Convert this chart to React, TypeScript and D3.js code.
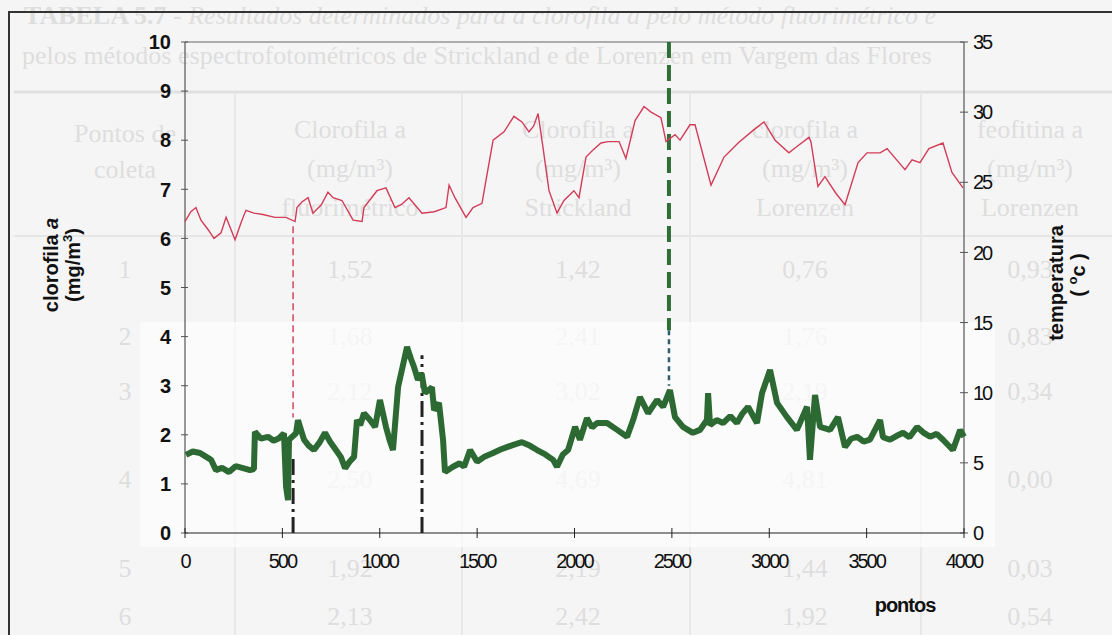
import React from 'react';
import * as d3 from 'd3';

const W = 1112;
const H = 635;

// temperatura (oC) - eixo direito
const tempPontos = [0, 30, 56, 82, 120, 149, 185, 211, 257, 290, 313, 354, 400, 462, 519, 565, 575, 600, 632, 657, 700, 734, 760, 806, 863, 909, 919, 986, 1032, 1078, 1110, 1150, 1217, 1280, 1340, 1356, 1386, 1443, 1479, 1525, 1550, 1582, 1638, 1689, 1730, 1766, 1790, 1813, 1838, 1869, 1890, 1910, 1946, 1997, 2023, 2059, 2095, 2136, 2172, 2229, 2264, 2311, 2357, 2393, 2444, 2470, 2516, 2542, 2593, 2619, 2701, 2768, 2840, 2917, 2973, 3030, 3101, 3137, 3204, 3214, 3250, 3286, 3343, 3389, 3456, 3502, 3569, 3605, 3697, 3733, 3774, 3820, 3892, 3938, 3995];
const tempValores = [22.2, 22.9, 23.2, 22.3, 21.6, 21.0, 21.4, 22.5, 20.9, 22.2, 23.0, 22.8, 22.7, 22.5, 22.5, 22.2, 23.2, 23.6, 23.9, 22.8, 23.4, 24.3, 23.9, 23.7, 22.3, 22.2, 23.2, 24.4, 24.6, 23.2, 23.4, 23.9, 22.8, 22.9, 23.2, 24.8, 23.9, 22.5, 23.2, 23.5, 25.5, 28.0, 28.6, 29.7, 29.3, 28.6, 29.0, 29.9, 27.5, 24.4, 23.6, 22.8, 23.7, 24.4, 23.9, 26.8, 27.3, 27.8, 27.9, 27.9, 26.7, 29.4, 30.4, 30.0, 29.6, 27.9, 28.4, 28.0, 29.1, 29.1, 24.8, 26.8, 27.8, 28.7, 29.3, 28.0, 27.1, 27.5, 28.2, 27.9, 24.7, 25.4, 24.2, 23.4, 26.4, 27.1, 27.1, 27.4, 25.9, 26.6, 26.4, 27.4, 27.8, 25.7, 24.6];

// clorofila a (mg/m3) - eixo esquerdo
const cloroPontos = [5, 40, 77, 105, 134, 159, 190, 226, 260, 298, 334, 354, 359, 390, 426, 455, 483, 508, 519, 529, 534, 570, 580, 611, 635, 662, 690, 719, 745, 775, 800, 822, 845, 868, 883, 900, 919, 950, 976, 1001, 1032, 1050, 1068, 1094, 1125, 1140, 1160, 1176, 1196, 1215, 1232, 1268, 1279, 1304, 1325, 1335, 1376, 1410, 1433, 1464, 1500, 1540, 1582, 1620, 1653, 1690, 1730, 1770, 1808, 1850, 1890, 1910, 1940, 1967, 2003, 2028, 2064, 2090, 2116, 2167, 2219, 2270, 2301, 2336, 2378, 2424, 2455, 2490, 2516, 2557, 2608, 2644, 2680, 2686, 2696, 2730, 2763, 2800, 2834, 2860, 2891, 2937, 2963, 3004, 3040, 3091, 3142, 3194, 3209, 3235, 3261, 3312, 3353, 3389, 3420, 3451, 3485, 3517, 3569, 3584, 3620, 3655, 3687, 3720, 3759, 3790, 3826, 3860, 3892, 3943, 3980, 4000];
const cloroValores = [1.59, 1.66, 1.63, 1.56, 1.49, 1.28, 1.33, 1.24, 1.36, 1.32, 1.28, 1.30, 2.06, 1.92, 1.96, 1.88, 1.93, 2.03, 0.94, 0.67, 1.9, 2.03, 2.3, 1.9, 1.78, 1.69, 1.84, 2.04, 1.86, 1.69, 1.55, 1.32, 1.45, 1.55, 2.3, 2.2, 2.44, 2.3, 2.16, 2.71, 2.16, 1.9, 1.69, 2.97, 3.52, 3.79, 3.55, 3.38, 3.12, 3.25, 2.85, 2.97, 2.5, 2.65, 1.9, 1.24, 1.35, 1.42, 1.35, 1.69, 1.45, 1.56, 1.63, 1.7, 1.75, 1.8, 1.85, 1.78, 1.69, 1.6, 1.49, 1.35, 1.6, 1.69, 2.16, 1.9, 2.34, 2.15, 2.24, 2.24, 2.1, 1.96, 2.3, 2.77, 2.44, 2.71, 2.57, 2.91, 2.36, 2.16, 2.04, 2.1, 2.3, 2.85, 2.2, 2.3, 2.24, 2.38, 2.24, 2.42, 2.57, 2.24, 2.85, 3.32, 2.65, 2.36, 2.1, 2.57, 1.49, 2.81, 2.16, 2.1, 2.36, 1.75, 1.92, 1.96, 1.86, 1.9, 2.3, 1.95, 1.9, 1.98, 2.04, 1.95, 2.16, 2.05, 1.96, 2.02, 1.9, 1.69, 2.1, 1.96];

// pontos de coleta marcados por linhas verticais (em mg/m3)
const marcaVermelha = { ponto: 555, de: 6.25, ate: 2.35 };
const marcasPretas = [
  { ponto: 555, de: 0, ate: 1.55 },
  { ponto: 1217, de: 0, ate: 3.62 },
];
const marcaVerde = { ponto: 2485, de: 4.13, ate: 10 };
const marcaAzul = { ponto: 2485, de: 3.0, ate: 4.13 };

const xTicks = [0, 500, 1000, 1500, 2000, 2500, 3000, 3500, 4000];
const cloroTicks = [0, 1, 2, 3, 4, 5, 6, 7, 8, 9, 10];
const tempTicks = [0, 5, 10, 15, 20, 25, 30, 35];

// tabela apagada ao fundo (digitalizada)
const tituloTabela = [
  'TABELA 5.7 - Resultados determinados para a clorofila a pelo método fluorimétrico e',
  'pelos métodos espectrofotométricos de Strickland e de Lorenzen em Vargem das Flores',
];
const cabecalhos = [
  ['Pontos de', 'coleta'],
  ['Clorofila a', '(mg/m³)', 'fluorimétrico'],
  ['Clorofila a', '(mg/m³)', 'Strickland'],
  ['clorofila a', '(mg/m³)', 'Lorenzen'],
  ['feofitina a', '(mg/m³)', 'Lorenzen'],
];
const linhasTabela = [
  ['1', '1,52', '1,42', '0,76', '0,93'],
  ['2', '1,68', '2,41', '1,76', '0,83'],
  ['3', '2,12', '3,02', '2,19', '0,34'],
  ['4', '2,50', '4,69', '4,81', '0,00'],
  ['5', '1,92', '2,19', '1,44', '0,03'],
  ['6', '2,13', '2,42', '1,92', '0,54'],
];
const linhasY = [278, 345, 400, 488, 577, 625];

export default function App() {
  const left = 185, right = 964, top = 42, bottom = 533;
  const x = d3.scaleLinear().domain([0, 4000]).range([left, right]);
  const yC = d3.scaleLinear().domain([0, 10]).range([bottom, top]);
  const yT = d3.scaleLinear().domain([0, 35]).range([bottom, top]);

  const linhaTemp = d3.line<number>()
    .x((d, i) => x(tempPontos[i]))
    .y(d => yT(d));
  const linhaCloro = d3.line<number>()
    .x((d, i) => x(cloroPontos[i]))
    .y(d => yC(d));

  const colX = [125, 350, 578, 805, 1030];
  const colLines = [235, 462, 690, 921];
  const ghost = '#dedede';
  const sans = 'Liberation Sans, Arial, sans-serif';

  return (
    <svg width={W} height={H} style={{ position: 'absolute', left: 0, top: 0 }}>
      <rect width={W} height={H} fill="#f5f5f5" />

      {/* tabela ao fundo */}
      <g fill={ghost} fontFamily="Liberation Serif, serif" fontSize={26}>
        <text x={24} y={24} fontWeight="bold">TABELA 5.7 - <tspan fontStyle="italic" fontWeight="normal">{tituloTabela[0].slice(13)}</tspan></text>
        <text x={22} y={64}>{tituloTabela[1]}</text>
        <line x1={14} x2={W} y1={92} y2={92} stroke="#e0e0e0" strokeWidth={3} />
        <line x1={14} x2={W} y1={236} y2={236} stroke="#e6e6e6" strokeWidth={2} />
        {colLines.map(c => (
          <line key={c} x1={c} x2={c} y1={94} y2={H} stroke="#e8e8e8" strokeWidth={2} />
        ))}
        {cabecalhos.map((col, ci) =>
          col.map((t, li) => (
            <text key={ci + '-' + li} x={colX[ci]} y={(ci === 0 ? 142 : 138) + li * (ci === 0 ? 36 : 39)} textAnchor="middle">{t}</text>
          ))
        )}
        {linhasTabela.map((row, ri) =>
          row.map((t, ci) => (
            <text key={ri + '-' + ci} x={colX[ci]} y={linhasY[ri]} textAnchor="middle">{t}</text>
          ))
        )}
      </g>

      {/* parte inferior colada, mais clara */}
      <rect x={140} y={322} width={855} height={225} fill="#fcfcfc" opacity={0.75} />

      {/* moldura externa */}
      <path d={`M9,${H} V12 H${W}`} fill="none" stroke="#333" strokeWidth={2} />

      {/* area do grafico */}
      <line x1={left} x2={right} y1={top} y2={top} stroke="#666" strokeWidth={1.2} />
      <line x1={left} x2={left} y1={top} y2={bottom} stroke="#555" strokeWidth={1.2} />
      <line x1={right} x2={right} y1={top} y2={bottom} stroke="#555" strokeWidth={1.2} />
      <line x1={left} x2={right} y1={bottom} y2={bottom} stroke="#222" strokeWidth={1.2} />

      {/* linhas verticais dos pontos de coleta */}
      <line x1={x(marcaVermelha.ponto)} x2={x(marcaVermelha.ponto)} y1={yC(marcaVermelha.de)} y2={yC(marcaVermelha.ate)}
        stroke="#d2465e" strokeWidth={1.5} strokeDasharray="7,4" />
      {marcasPretas.map(m => (
        <line key={m.ponto} x1={x(m.ponto)} x2={x(m.ponto)} y1={yC(m.de)} y2={yC(m.ate)}
          stroke="#222" strokeWidth={3} strokeDasharray="16,5,3,5" />
      ))}
      <line x1={x(marcaVerde.ponto)} x2={x(marcaVerde.ponto)} y1={yC(marcaVerde.ate)} y2={yC(marcaVerde.de)}
        stroke="#2f6e36" strokeWidth={4} strokeDasharray="16,7" />
      <line x1={x(marcaAzul.ponto)} x2={x(marcaAzul.ponto)} y1={yC(marcaAzul.ate)} y2={yC(marcaAzul.de)}
        stroke="#2f5f6e" strokeWidth={2.5} strokeDasharray="5,4" />

      {/* series */}
      <path d={linhaCloro(cloroValores) || ''} fill="none" stroke="#2d6a33" strokeWidth={6} strokeLinejoin="bevel" />
      <path d={linhaTemp(tempValores) || ''} fill="none" stroke="#d23c58" strokeWidth={1.4} />

      {/* eixo esquerdo */}
      <g fontFamily={sans} fontSize={20} fontWeight="bold" fill="#111">
        {cloroTicks.map(t => (
          <g key={t}>
            <line x1={left - 4} x2={left + 3} y1={yC(t)} y2={yC(t)} stroke="#555" />
            <text x={left - 14} y={yC(t)} dy="0.36em" textAnchor="end">{t}</text>
          </g>
        ))}
      </g>

      {/* eixo direito */}
      <g fontFamily={sans} fontSize={20} fill="#111" letterSpacing={-2}>
        {tempTicks.map(t => (
          <g key={t}>
            <line x1={right - 4} x2={right + 4} y1={yT(t)} y2={yT(t)} stroke="#555" />
            <text x={right + 9} y={yT(t)} dy="0.36em">{t}</text>
          </g>
        ))}
      </g>

      {/* eixo x */}
      <g fontFamily={sans} fontSize={20} fill="#111" letterSpacing={-2}>
        {xTicks.map(t => (
          <g key={t}>
            <line x1={x(t)} x2={x(t)} y1={bottom - 5} y2={bottom + 5} stroke="#222" />
            <text x={x(t)} y={bottom + 35} textAnchor="middle">{t}</text>
          </g>
        ))}
      </g>

      {/* titulos dos eixos */}
      <g fontFamily={sans} fontSize={20} fontWeight="bold" fill="#111">
        <text transform={`translate(58,265) rotate(-90)`} textAnchor="middle">
          clorofila <tspan fontStyle="italic">a</tspan>
        </text>
        <text transform={`translate(80,265) rotate(-90)`} textAnchor="middle">
          (mg/m<tspan fontSize={13} dy={-8}>3</tspan><tspan dy={8}>)</tspan>
        </text>
        <text transform={`translate(1063,283) rotate(-90)`} textAnchor="middle">temperatura</text>
        <text transform={`translate(1085,275) rotate(-90)`} textAnchor="middle">
          ( <tspan fontSize={13} dy={-8}>o</tspan><tspan dy={8}>c )</tspan>
        </text>
        <text x={905} y={612} textAnchor="middle" letterSpacing={-1}>pontos</text>
      </g>
    </svg>
  );
}
